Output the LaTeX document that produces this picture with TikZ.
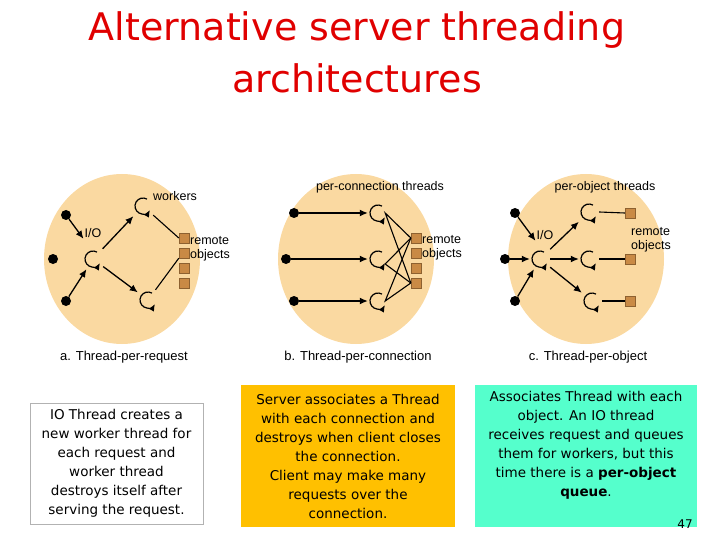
\documentclass[tikz,border=0pt]{standalone}
\usepackage{fontspec}
\setmainfont{DejaVu Sans}
\newfontfamily\arial{Liberation Sans}
\usetikzlibrary{arrows.meta,calc}
\definecolor{peach}{HTML}{FAD9A1}
\definecolor{objc}{HTML}{C98A45}
\definecolor{titlered}{HTML}{E00000}
\definecolor{orangebox}{HTML}{FFC000}
\definecolor{mint}{HTML}{55FFCC}
\tikzset{
  blob/.style={fill=peach,draw=none},
  dot/.style={circle,fill=black,inner sep=0pt,minimum size=10pt},
  obj/.style={draw=objc!70!black,fill=objc,minimum size=10pt,inner sep=0pt,line width=0.4pt},
  thr/.style={inner sep=0pt,minimum size=20pt},
  arr/.style={-{Latex[length=8pt,width=7pt]},line width=1.3pt},
  ln/.style={line width=1.1pt},
  lab/.style={font=\arial\fontsize{12.5}{14}\selectfont,inner sep=1pt},
  captxt/.style={font=\arial\fontsize{13}{15}\selectfont},
  txt/.style={font=\fontsize{13.5}{19}\selectfont,align=center,inner sep=2pt}
}
\newcommand{\thrglyph}[1]{\draw[line width=1.2pt,-{Latex[length=7pt,width=6pt]}] ($(#1)+(4,-6.9)$) arc[start angle=300,end angle=30,radius=8];}
\begin{document}
\begin{tikzpicture}[x=1pt,y=-1pt]
\useasboundingbox (0,0) rectangle (720,540);
% titles
\node[text=titlered,font=\fontsize{38}{44}\selectfont] (t1) at (357,30) {Alternative server threading};
\node[text=titlered,font=\fontsize{38}{44}\selectfont] (t2) at (357,78) {architectures};
% blobs
\fill[blob] (122,259) ellipse [x radius=78,y radius=85];
\fill[blob] (356,259) ellipse [x radius=78,y radius=85];
\fill[blob] (586,259) ellipse [x radius=78,y radius=85];
% ---- panel a
\node[dot] (a1) at (66,215) {};
\node[dot] (a2) at (53,259) {};
\node[dot] (a3) at (66,301) {};
\node[thr] (aio) at (93,259) {};
\node[thr] (aw1) at (143,206) {};
\node[thr] (aw2) at (148,300) {};
\node[lab] (aiol) at (93,233) {I/O};
\node[lab,anchor=west] (awl) at (152,196) {workers};
\node[obj] (ao1) at (184,238) {};
\node[obj] (ao2) at (184,253) {};
\node[obj] (ao3) at (184,268) {};
\node[obj] (ao4) at (184,283) {};
\node[lab,anchor=west,align=left] (aol) at (189,249) {remote\\objects};
\draw[arr] (a1) -- (aiol.south west);
\draw[arr] (a3) -- (aio);
\draw[arr] (aio) -- (aw1);
\draw[arr] (aio) -- (aw2);
\draw[ln] (aw1) -- (ao1.west);
\draw[ln] (aw2) -- (ao2.south west);
\foreach \n in {aio,aw1,aw2}{\thrglyph{\n}}
% ---- panel b
\node[dot] (b1) at (294,213) {};
\node[dot] (b2) at (286,259) {};
\node[dot] (b3) at (294,301) {};
\node[thr] (bt1) at (378,213) {};
\node[thr] (bt2) at (378,259) {};
\node[thr] (bt3) at (378,301) {};
\node[lab] (btl) at (380,187) {per-connection threads};
\node[obj] (bo1) at (416,238) {};
\node[obj] (bo2) at (416,253) {};
\node[obj] (bo3) at (416,268) {};
\node[obj] (bo4) at (416,283) {};
\node[lab,anchor=west,align=left] (bol) at (421,248) {remote\\objects};
\draw[arr] (b1) -- (bt1.west);
\draw[arr] (b2) -- (bt2.west);
\draw[arr] (b3) -- (bt3.west);
\draw[ln] (bo1.west) -- ($(bt1.east)+(-3,0)$) -- (bo4.west);
\draw[ln] (bo1.west) -- ($(bt2.east)+(-3,5)$) -- (bo4.west);
\draw[ln] (bo1.west) -- ($(bt3.east)+(-3,0)$) -- (bo4.west);
\foreach \n in {bt1,bt2,bt3}{\thrglyph{\n}}
% ---- panel c
\node[dot] (c1) at (515,213) {};
\node[dot] (c2) at (505,259) {};
\node[dot] (c3) at (515,301) {};
\node[thr] (cio) at (540,259) {};
\node[lab] (ciol) at (545,235) {I/O};
\node[thr] (ct1) at (589,212) {};
\node[thr] (ct2) at (589,259) {};
\node[thr] (ct3) at (592,301) {};
\node[lab] (ctl) at (605,187) {per-object threads};
\node[obj] (co1) at (630,213) {};
\node[obj] (co2) at (630,259) {};
\node[obj] (co3) at (630,301) {};
\node[lab,anchor=west,align=left] (col) at (630,240) {remote\\objects};
\draw[arr] (c1) -- (ciol.south west);
\draw[arr] (c2) -- (cio);
\draw[arr] (c3) -- (cio);
\draw[arr] (cio) -- (ct1);
\draw[arr] (cio) -- (ct2);
\draw[arr] (cio) -- (ct3);
\draw[ln] (ct1.east) -- (co1.west);
\draw[ln] (ct2.east) -- (co2.west);
\draw[ln] (ct3.east) -- (co3.west);
\foreach \n in {cio,ct1,ct2,ct3}{\thrglyph{\n}}
% captions
\node[captxt] (ca) at (124,357) {a. Thread-per-request};
\node[captxt] (cb) at (358,357) {b. Thread-per-connection};
\node[captxt] (cc) at (588,357) {c. Thread-per-object};
% text boxes
\draw[gray!60,fill=white] (30,403) rectangle (203,524);
\node[txt] (x1) at (116.5,463.5) {IO Thread creates a\\new worker thread for\\each request and\\worker thread\\destroys itself after\\serving the request.};
\fill[orangebox] (241,385) rectangle (455,527);
\node[txt] (x2) at (348,456) {Server associates a Thread\\with each connection and\\destroys when client closes\\the connection.\\Client may make many\\requests over the\\connection.};
\fill[mint] (475,385) rectangle (697,527);
\node[txt,anchor=north] (x3) at (586,389) {Associates Thread with each\\object. An IO thread\\receives request and queues\\them for workers, but this\\time there is a \textbf{per-object}\\\textbf{queue}.};
\node[font=\fontsize{12}{14}\selectfont] (pg) at (685,524) {47};
\end{tikzpicture}
\end{document}
